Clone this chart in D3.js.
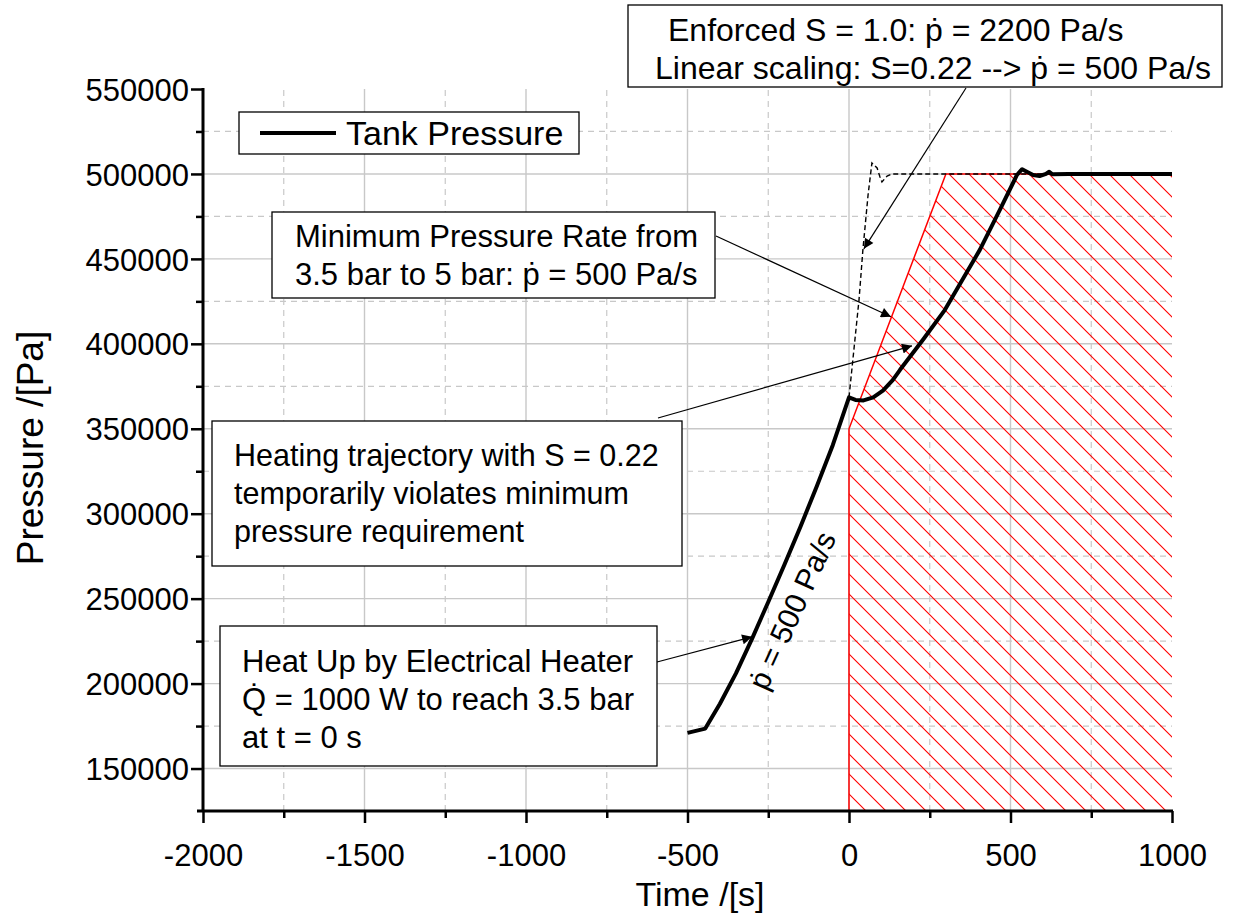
<!DOCTYPE html>
<html>
<head>
<meta charset="utf-8">
<script src="https://cdn.jsdelivr.net/npm/d3@7"></script>
<style>
  body { margin: 0; background: #fff; }
  svg text { font-family: "Liberation Sans", Arial, sans-serif; fill: #000; }
</style>
</head>
<body>
<script>
// tank pressure (solid, S = 0.22)
var t_tank = [-500, -445, -400, -350, -300, -250, -200, -150, -100, -50, 0, 20, 45, 75, 105, 136, 158, 229, 297, 405, 467, 520, 536, 552, 570, 590, 610, 619, 630, 680, 1000];
var p_tank = [171000, 173500, 188000, 206000, 226500, 248000, 270000, 292500, 316000, 340500, 368500, 367000, 366700, 368500, 372500, 378800, 384700, 402400, 420000, 455300, 478800, 499400, 502800, 501200, 499400, 498800, 500000, 501300, 499800, 500000, 500000];

// enforced S = 1.0 (dashed)
var t_enf = [0, 31, 43, 59, 71, 87, 96, 102, 118, 133, 1000];
var p_enf = [368500, 425900, 455300, 487600, 506500, 503500, 498200, 495300, 498800, 500000, 500000];

// minimum pressure region (hatched)
var t_min = [0, 0, 300, 1000, 1000];
var p_min = [125000, 350000, 500000, 500000, 125000];

var x_major = [-2000, -1500, -1000, -500, 0, 500, 1000];
var x_minor = [-1750, -1250, -750, -250, 250, 750];
var y_major = [150000, 200000, 250000, 300000, 350000, 400000, 450000, 500000, 550000];
var y_minor = [175000, 225000, 275000, 325000, 375000, 425000, 475000, 525000];

var width = 1235;
var height = 916;

var x = d3.scaleLinear().domain([-2000, 1000]).range([203, 1172]);
var y = d3.scaleLinear().domain([125000, 550000]).range([811, 89]);

var svg = d3.select("body").append("svg")
  .attr("width", width)
  .attr("height", height);

var defs = svg.append("defs");
defs.append("pattern")
  .attr("id", "hatch")
  .attr("patternUnits", "userSpaceOnUse")
  .attr("x", 15)
  .attr("width", 20)
  .attr("height", 20)
  .append("path")
  .attr("d", "M0,0L20,20M-5,15L5,25M15,-5L25,5")
  .attr("stroke", "#ff0000")
  .attr("stroke-width", 1.1);

var marker = defs.append("marker")
  .attr("id", "head")
  .attr("viewBox", "0 0 10 10")
  .attr("refX", 10)
  .attr("refY", 5)
  .attr("markerUnits", "userSpaceOnUse")
  .attr("markerWidth", 18)
  .attr("markerHeight", 10)
  .attr("orient", "auto");
marker.append("path").attr("d", "M0,0L10,5L0,10Z").attr("fill", "#000");

// grid
var grid = svg.append("g");
grid.selectAll(".gxm").data(x_minor).enter().append("line")
  .attr("x1", d => x(d)).attr("x2", d => x(d))
  .attr("y1", y(125000)).attr("y2", y(550000))
  .attr("stroke", "#c8c8c8").attr("stroke-width", 1.2).attr("stroke-dasharray", "6,5");
grid.selectAll(".gym").data(y_minor).enter().append("line")
  .attr("x1", x(-2000)).attr("x2", x(1000))
  .attr("y1", d => y(d)).attr("y2", d => y(d))
  .attr("stroke", "#c8c8c8").attr("stroke-width", 1.2).attr("stroke-dasharray", "6,5");
grid.selectAll(".gx").data(x_major.slice(1, -1)).enter().append("line")
  .attr("x1", d => x(d)).attr("x2", d => x(d))
  .attr("y1", y(125000)).attr("y2", y(550000))
  .attr("stroke", "#c8c8c8").attr("stroke-width", 1.4);
grid.selectAll(".gy").data(y_major.slice(0, -1)).enter().append("line")
  .attr("x1", x(-2000)).attr("x2", x(1000))
  .attr("y1", d => y(d)).attr("y2", d => y(d))
  .attr("stroke", "#c8c8c8").attr("stroke-width", 1.4);

// hatched region
var region = t_min.map((t, i) => [t, p_min[i]]);
var line = d3.line().x(d => x(d[0])).y(d => y(d[1]));
svg.append("path")
  .attr("d", line(region) + "Z")
  .attr("fill", "url(#hatch)");
svg.append("path")
  .attr("d", line(region.slice(0, 4)))
  .attr("fill", "none")
  .attr("stroke", "#ff0000")
  .attr("stroke-width", 1.5);

// enforced trajectory
svg.append("path")
  .attr("d", line(t_enf.map((t, i) => [t, p_enf[i]])))
  .attr("fill", "none")
  .attr("stroke", "#000")
  .attr("stroke-width", 1.4)
  .attr("stroke-dasharray", "5,3");

// tank pressure
svg.append("path")
  .attr("d", line(t_tank.map((t, i) => [t, p_tank[i]])))
  .attr("fill", "none")
  .attr("stroke", "#000")
  .attr("stroke-width", 4)
  .attr("stroke-linejoin", "round");

// axes
var fmt = d => String(d);
var gy = svg.append("g").attr("transform", "translate(" + x(-2000) + ",0)")
  .call(d3.axisLeft(y).tickValues(y_major).tickSize(12).tickPadding(2).tickFormat(fmt));
var gym = svg.append("g").attr("transform", "translate(" + x(-2000) + ",0)")
  .call(d3.axisLeft(y).tickValues(y_minor).tickSize(7).tickFormat(""));
var gx = svg.append("g").attr("transform", "translate(0," + y(125000) + ")")
  .call(d3.axisBottom(x).tickValues(x_major).tickSize(12).tickPadding(21).tickFormat(fmt));
var gxm = svg.append("g").attr("transform", "translate(0," + y(125000) + ")")
  .call(d3.axisBottom(x).tickValues(x_minor).tickSize(7).tickFormat(""));
[gy, gym, gx, gxm].forEach(function(g) {
  g.select(".domain").remove();
  g.selectAll(".tick line").attr("stroke", "#000").attr("stroke-width", 2.5);
  g.selectAll(".tick text").style("font-size", "31px").attr("fill", "#000");
});
gy.selectAll(".tick text").attr("dy", "0.36em");
svg.append("line")
  .attr("x1", x(-2000)).attr("x2", x(-2000))
  .attr("y1", y(550000) - 1).attr("y2", y(125000) + 1)
  .attr("stroke", "#000").attr("stroke-width", 3);
svg.append("line")
  .attr("x1", x(-2000) - 6).attr("x2", x(1000) + 1)
  .attr("y1", y(125000)).attr("y2", y(125000))
  .attr("stroke", "#000").attr("stroke-width", 3);

// axis titles
svg.append("text")
  .attr("x", 700).attr("y", 906)
  .attr("text-anchor", "middle")
  .style("font-size", "34px")
  .text("Time /[s]");
svg.append("text")
  .attr("transform", "translate(43,448) rotate(-90)")
  .attr("text-anchor", "middle")
  .style("font-size", "37px")
  .text("Pressure /[Pa]");

// legend
var leg = svg.append("g");
leg.append("rect").attr("x", 239).attr("y", 112).attr("width", 340).attr("height", 42)
  .attr("fill", "#fff").attr("stroke", "#000").attr("stroke-width", 1.3);
leg.append("line").attr("x1", 260).attr("x2", 336).attr("y1", 133).attr("y2", 133)
  .attr("stroke", "#000").attr("stroke-width", 4);
leg.append("text").attr("x", 346).attr("y", 145).style("font-size", "34px").text("Tank Pressure");

// annotations: box, text lines, arrow start (px) and tip (data)
var notes = [
  { box: [628, 5, 594, 82], size: 32, lines: ["Enforced S = 1.0: \u1E57 = 2200 Pa/s", "Linear scaling: S=0.22 --> \u1E57 = 500 Pa/s"],
    tx: [668, 655], ty: 41, from: [966, 88], tip: [46, 455900] },
  { box: [272, 212, 443, 86], size: 31, lines: ["Minimum Pressure Rate from", "3.5 bar to 5 bar: \u1E57 = 500 Pa/s"],
    tx: [295, 295], ty: 247, from: [716, 236], tip: [130, 415900] },
  { box: [212, 421, 470, 145], size: 30.5, lines: ["Heating trajectory with S = 0.22", "temporarily violates minimum", "pressure requirement"],
    tx: [234, 234, 234], ty: 466, from: [658, 418], tip: [195, 398800] },
  { box: [220, 626, 437, 140], size: 31, lines: ["Heat Up by Electrical Heater", "Q\u0307 = 1000 W to reach 3.5 bar", "at t = 0 s"],
    tx: [242, 242, 242], ty: 672, from: [657, 662], tip: [-300, 227500] }
];
notes.forEach(function(n) {
  var g = svg.append("g");
  g.append("rect").attr("x", n.box[0]).attr("y", n.box[1]).attr("width", n.box[2]).attr("height", n.box[3])
    .attr("fill", "#fff").attr("stroke", "#000").attr("stroke-width", 1.3);
  n.lines.forEach(function(s, i) {
    g.append("text").attr("x", n.tx[i]).attr("y", n.ty + i * 38).style("font-size", n.size + "px").text(s);
  });
  svg.append("line")
    .attr("x1", n.from[0]).attr("y1", n.from[1])
    .attr("x2", x(n.tip[0])).attr("y2", y(n.tip[1]))
    .attr("stroke", "#000").attr("stroke-width", 1.2)
    .attr("marker-end", "url(#head)");
});

// slope label along the heat-up curve
svg.append("text")
  .attr("transform", "translate(" + x(-176) + "," + y(243000) + ") rotate(-65.5)")
  .attr("text-anchor", "middle")
  .attr("dy", "0.35em")
  .style("font-size", "30px")
  .text("\u1E57 = 500 Pa/s");
</script>
</body>
</html>
